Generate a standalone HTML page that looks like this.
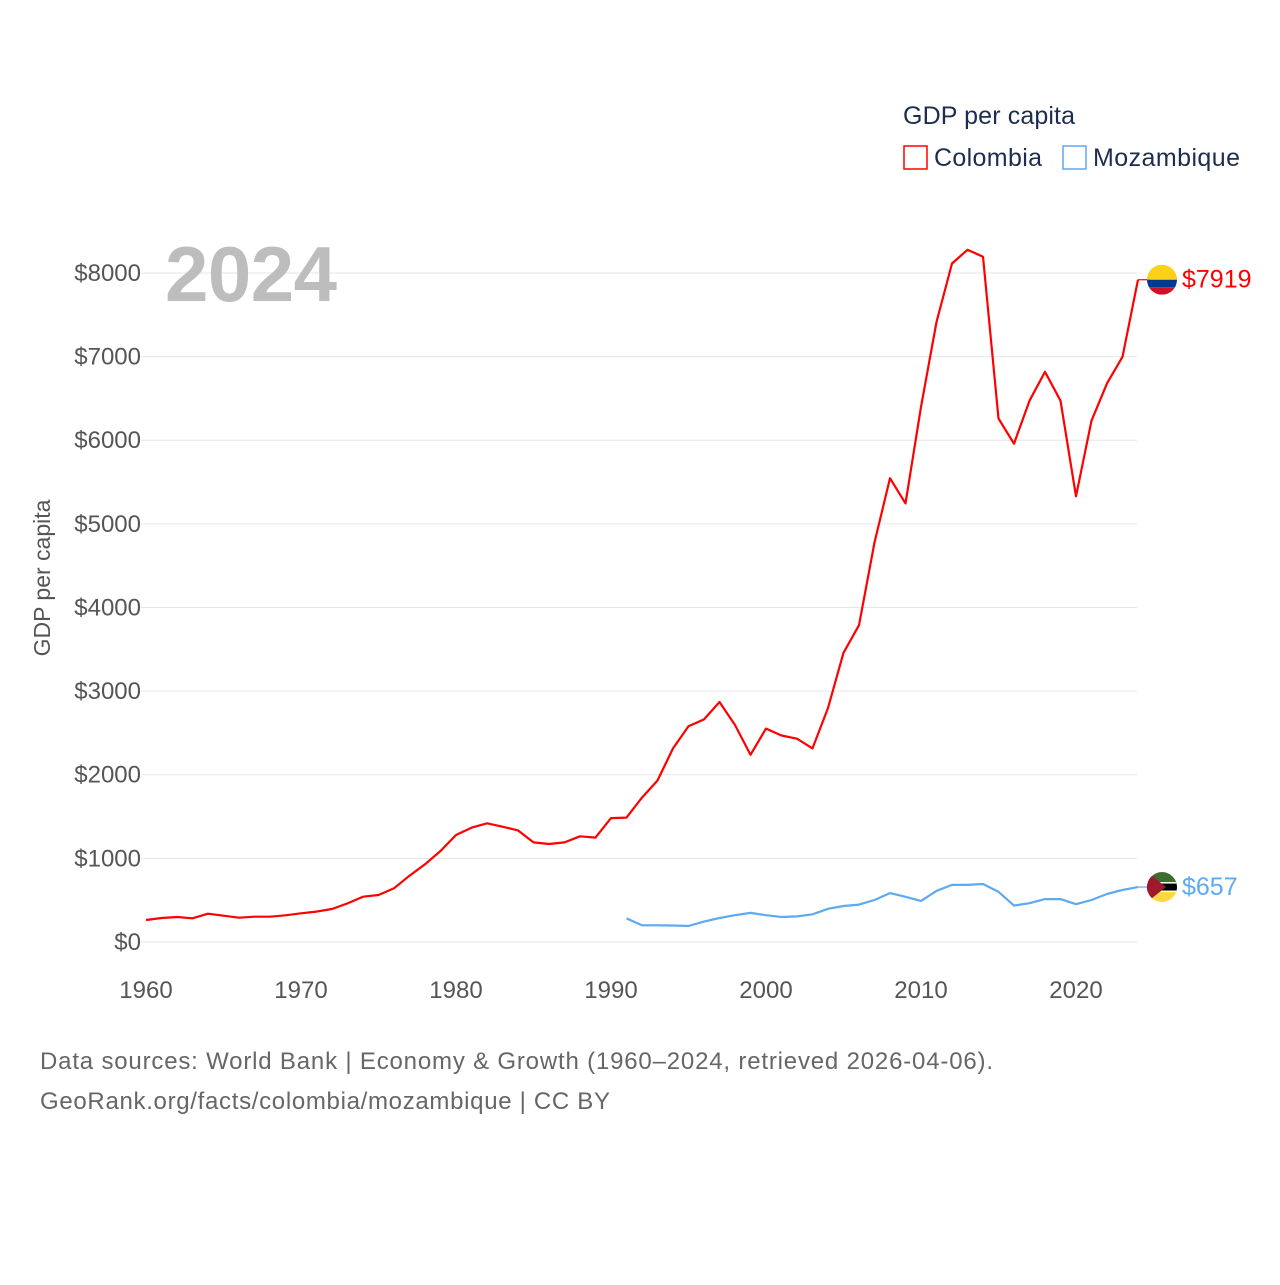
<!DOCTYPE html>
<html><head><meta charset="utf-8"><style>
body{margin:0;background:#fff;}
svg text{font-family:"Liberation Sans",sans-serif;}
</style></head><body>
<svg id="chart" width="1280" height="1280" viewBox="0 0 1280 1280" xmlns="http://www.w3.org/2000/svg">
<g id="grid"></g>
<g id="yticks"></g>
<g id="xticks"></g>
<text x="165" y="301" font-size="78" font-weight="bold" fill="#bdbdbd" textLength="172">2024</text>
<text transform="translate(50,578) rotate(-90)" text-anchor="middle" font-size="23" fill="#555">GDP per capita</text>
<g id="series"></g>
<g>
<text x="903" y="124" font-size="25" fill="#1c2d4f" textLength="172">GDP per capita</text>
<rect x="904" y="146" width="23" height="23" fill="none" stroke="#ff0000" stroke-width="1.5"/>
<text x="934" y="166" font-size="25" fill="#1c2d4f" textLength="108">Colombia</text>
<rect x="1063" y="146" width="23" height="23" fill="none" stroke="#5ea9f0" stroke-width="1.5"/>
<text x="1093" y="166" font-size="25" fill="#1c2d4f" textLength="147">Mozambique</text>
</g>
<g id="ends"></g>
<text x="40" y="1069" font-size="24" fill="#666" textLength="953">Data sources: World Bank | Economy &amp; Growth (1960–2024, retrieved 2026-04-06).</text>
<text x="40" y="1109" font-size="24" fill="#666" textLength="570">GeoRank.org/facts/colombia/mozambique | CC BY</text>
</svg>
<script>
const years = Array.from({length:65},(_,i)=>1960+i);
const colombia = [263,287,299,283,338,315,291,303,303,319,343,363,395,462,542,562,642,793,929,1088,1279,1367,1419,1379,1335,1191,1172,1191,1264,1248,1482,1487,1727,1931,2315,2579,2662,2870,2595,2238,2552,2469,2431,2315,2798,3458,3788,4777,5546,5244,6398,7414,8113,8277,8195,6260,5958,6472,6818,6472,5330,6233,6680,6998,7919];
const mozYears = Array.from({length:34},(_,i)=>1991+i);
const mozambique = [282,200,200,197,191,244,287,320,348,320,299,306,331,397,430,447,502,585,540,491,611,683,683,694,600,435,464,513,513,452,502,574,623,657];
const yTicks = [0,1000,2000,3000,4000,5000,6000,7000,8000];
const xTicks = [1960,1970,1980,1990,2000,2010,2020];
const NS="http://www.w3.org/2000/svg";
const X = y => 146 + (y-1960)*15.5;
const Y = v => 942 - v*0.08363;
function mk(tag, attrs, parent){const e=document.createElementNS(NS,tag);for(const k in attrs)e.setAttribute(k,attrs[k]);parent.appendChild(e);return e;}
const grid=document.getElementById('grid'), yt=document.getElementById('yticks'), xt=document.getElementById('xticks'), ser=document.getElementById('series'), ends=document.getElementById('ends');
yTicks.forEach(v=>{
  const l=mk('line',{x1:141,x2:1137,y1:Y(v),y2:Y(v),stroke:'#e6e6e6','stroke-width':1},grid);
  
  
  const t=mk('text',{x:141,y:Y(v)+8,'text-anchor':'end','font-size':24,fill:'#555'},yt);
  t.textContent='$'+v;
  
  
});
xTicks.forEach(y=>{
  const t=mk('text',{x:X(y),y:998,'text-anchor':'middle','font-size':24,fill:'#555'},xt);
  t.textContent=y;
  
  
});
function line(ys,vals,color,name){
  const d=vals.map((v,i)=>(i?'L':'M')+X(ys[i]).toFixed(1)+','+Y(v).toFixed(1)).join(' ');
  const p=mk('path',{d:d,fill:'none',stroke:color,'stroke-width':2.2,'stroke-linejoin':'round'},ser);
  
  
  const last=vals[vals.length-1], lx=X(ys[ys.length-1]);
  const c=mk('line',{x1:lx,x2:lx+12,y1:Y(last),y2:Y(last),stroke:color,'stroke-width':1.2},ser);
  
  
  const t=mk('text',{x:1182,y:Y(last)+8,'font-size':25,fill:color},ends);
  t.textContent='$'+last;
  
  
  return Y(last);
}
const cy=line(years,colombia,'#ff0000','colombia-line');
const my=line(mozYears,mozambique,'#5ea9f0','mozambique-line');
const defs=mk('defs',{},ends);
const cp1=mk('clipPath',{id:'c1'},defs);mk('circle',{cx:1162,cy:cy,r:15},cp1);
const cp2=mk('clipPath',{id:'c2'},defs);mk('circle',{cx:1162,cy:my,r:15},cp2);
const f1=mk('g',{'clip-path':'url(#c1)'},ends);


mk('rect',{x:1147,y:cy-15,width:30,height:15,fill:'#fcd116'},f1);
mk('rect',{x:1147,y:cy,width:30,height:7.5,fill:'#003893'},f1);
mk('rect',{x:1147,y:cy+7.5,width:30,height:7.5,fill:'#ce1126'},f1);
const f2=mk('g',{'clip-path':'url(#c2)'},ends);


mk('rect',{x:1147,y:my-15,width:30,height:10,fill:'#3e6b2e'},f2);
mk('rect',{x:1147,y:my-5,width:30,height:10,fill:'#000'},f2);
mk('rect',{x:1147,y:my-5,width:30,height:1.5,fill:'#fff'},f2);
mk('rect',{x:1147,y:my+3.5,width:30,height:1.5,fill:'#fff'},f2);
mk('rect',{x:1147,y:my+5,width:30,height:10,fill:'#fcd83e'},f2);
mk('path',{d:`M1147,${my-15} L1166,${my} L1147,${my+15} Z`,fill:'#a0182c'},f2);
</script>
</body></html>
